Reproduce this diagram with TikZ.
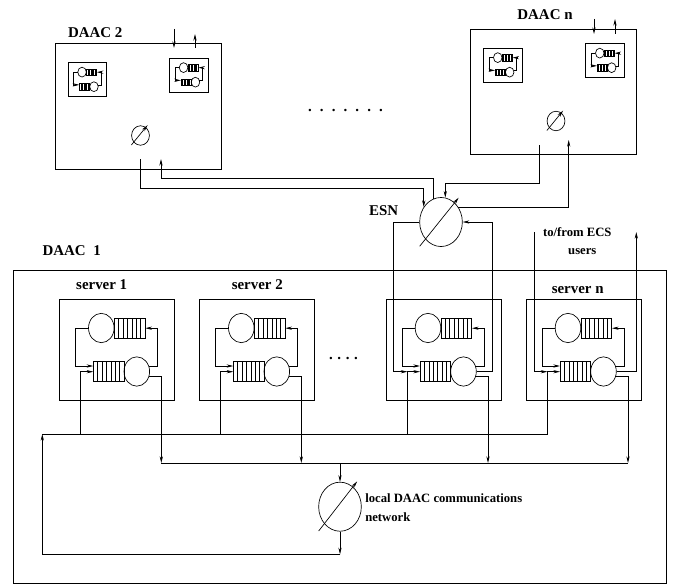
\documentclass[tikz,border=0pt]{standalone}
\usepackage{fontspec}
\setmainfont{Liberation Serif}
\usepackage{tikz}
\usetikzlibrary{arrows.meta, shapes.geometric}
\tikzset{
  site/.style={draw, rectangle, inner sep=0pt, line width=0.5pt},
  srvbox/.style={site, minimum width=86.25pt, minimum height=76pt},
  srvcirc/.style={draw, ellipse, inner sep=0pt, line width=0.5pt,
    minimum width=19.2pt, minimum height=22pt},
  srvq/.style={site, minimum width=23pt, minimum height=14.7pt,
    path picture={
      \foreach \i in {1,...,6}
        \draw[line width=0.4pt] ([xshift=\i*3.286pt]path picture bounding box.south west)
          -- ([xshift=\i*3.286pt]path picture bounding box.north west);
    }
  },
  lanbig/.style={draw, ellipse, inner sep=0pt, line width=0.5pt,
    minimum width=32pt, minimum height=36.8pt},
  lansmall/.style={draw, ellipse, inner sep=0pt, line width=0.5pt,
    minimum width=13.4pt, minimum height=14.6pt},
  link/.style={line width=0.5pt},
  flow/.style={-{Stealth[length=5pt,width=2.4pt]}, line width=0.5pt},
  lblbig/.style={font=\fontsize{11.2}{13}\selectfont\bfseries, inner sep=0pt},
  lblsmall/.style={font=\fontsize{9.5}{11}\selectfont\bfseries, inner sep=0pt}
}
% one server: two queues and two stations in a loop
\newcommand{\serverloop}[3]{
  \begin{scope}[shift={#2}, scale=#3, transform shape]
    \node[srvbox]  (#1)   at (57.5,50.7) {};
    \node[srvcirc] (#1ct) at (42,28.7) {};
    \node[srvq]    (#1qt) at (70.3,28.9) {};
    \node[srvq]    (#1qb) at (49.4,72.2) {};
    \node[srvcirc] (#1cb) at (77.5,72.2) {};
    \coordinate (#1ia) at (34,66.7);
    \coordinate (#1ib) at (34,72.4);
    \coordinate (#1j)  at (21.4,72.4);
    \coordinate (#1oa) at (89.3,66.7);
    \coordinate (#1ob) at (89.5,76.7);
    \coordinate (#1d)  at (102,76.7);
    \draw[flow] (#1ct.west) -- ++(-12.6,0) |- (#1ia);
    \draw[flow] (#1oa) -- ++(8.7,0) |- (#1qt.east);
  \end{scope}
}

\begin{document}
\begin{tikzpicture}[x=0.75pt, y=-0.75pt]
  \useasboundingbox (0,0) rectangle (677,585);

  % remote sites
  \node[site, minimum width=124.5pt, minimum height=94.5pt] (daacb) at (138,106) {};
  \node[site, minimum width=124pt, minimum height=94.1pt] (daacn) at (553.3,91.7) {};
  \node[lblbig] (daacblbl) at (95.3,33) {DAAC 2};
  \node[lblbig] (daacnlbl) at (545,15) {DAAC n};
  \serverloop{rba}{(68,62.5)}{0.335}
  \serverloop{rbb}{(169.5,58)}{0.335}
  \serverloop{rna}{(483.7,48)}{0.335}
  \serverloop{rnb}{(585.7,43.5)}{0.335}
  \node[lansmall] (lanb) at (140.5,135.5) {};
  \node[lansmall] (lann) at (556,121) {};
  \draw[flow] ([shift={(-2.6,2.4)}]lanb.south west) -- ([shift={(0.5,-3.2)}]lanb.north east);
  \draw[flow] ([shift={(-2.6,2.4)}]lann.south west) -- ([shift={(0.5,-3.2)}]lann.north east);
  \node[anchor=base, lblbig] (dotsa) at (345.5,111) {.\hspace{6.1pt}.\hspace{6.1pt}.\hspace{6.1pt}.\hspace{6.1pt}.\hspace{6.1pt}.\hspace{6.1pt}.};

  % users of the remote sites
  \coordinate (ubin)  at (174,29);   \coordinate (ubint)  at (174,48);
  \coordinate (ubout) at (195,48);   \coordinate (uboutt) at (195,34);
  \coordinate (unin)  at (594,19);   \coordinate (unint)  at (594,34);
  \coordinate (unout) at (615,34);   \coordinate (unoutt) at (615,19);
  \draw[flow] (ubin)--(ubint); \draw[flow] (ubout)--(uboutt);
  \draw[flow] (unin)--(unint); \draw[flow] (unout)--(unoutt);

  % ESN
  \node[lanbig] (esn) at (441,222) {};
  \draw[flow] ([shift={(-6,6.7)}]esn.south west) -- ([shift={(2.3,-6.7)}]esn.north east);
  \node[lblbig] (esnlbl) at (383.7,211) {ESN};
  \coordinate (bout) at (140,159);
  \coordinate (bin)  at (161,159);
  \coordinate (nout) at (539.3,145);
  \coordinate (nin)  at (568.7,140);
  \draw[flow] (bout) -- ++(0,29) -| (esn.139);
  \draw[flow] (esn.109) -- ++(0,-20.7) -| (bin);
  \draw[flow] (nout) -- ++(0,38.5) -| (esn.80);
  \draw[flow] (esn.40) -| (nin);

  % local site
  \node[site, minimum width=490pt, minimum height=234.5pt] (daaca) at (339.7,426.6) {};
  \node[lblbig] (daacalbl) at (71.7,250.7) {DAAC\hspace{3pt} 1};
  \foreach \nm/\xx in {srva/59.3, srvb/199.3, srvc/386, srvn/526}
    \serverloop{\nm}{(\xx,299.3)}{1};
  \node[lblbig] (srvalbl) at (101.7,285) {server 1};
  \node[lblbig] (srvblbl) at (257.3,285) {server 2};
  \node[lblbig] (srvnlbl) at (577.7,290) {server n};
  \node[anchor=base, lblbig] (dotsb) at (343.5,359) {.\hspace{3.4pt}.\hspace{3.4pt}.\hspace{3.4pt}.};
  \node[lblsmall] (ecslbla) at (577.3,232.5) {to/from ECS};
  \node[lblsmall] (ecslblb) at (582.3,252) {users};

  % buses
  \coordinate (busup)  at (42.3,434);
  \coordinate (busupe) at (547.6,434);
  \coordinate (busdn)  at (161.3,463);
  \coordinate (busdne) at (628,463);
  \draw[link] (busup) -- (busupe);
  \draw[link] (busdn) -- (busdne);
  \foreach \nm in {srva, srvb, srvc, srvn} {
    \draw[flow] (\nm j |- busup) |- (\nm ib);
    \draw[flow] (\nm ob) -| (\nm d |- busdn);
  }

  % links to the outside
  \draw[flow] (esn.west) -- ++(-25.7,0) |- (srvcj);
  \draw[flow] (srvccb.east) -- ++(16,0) |- (esn.east);
  \coordinate (ecsin)  at (534.3,232);
  \coordinate (ecsout) at (636.3,232);
  \draw[flow] (ecsin) |- (srvnj);
  \draw[flow] (srvncb.east) -| (ecsout);

  % local network
  \node[lanbig] (lan) at (340,506.7) {};
  \draw[flow] ([shift={(-6,6.7)}]lan.south west) -- ([shift={(1.8,-7.7)}]lan.north east);
  \node[lblsmall, anchor=west] (lanlbla) at (365,497.7) {local DAAC communications};
  \node[lblsmall, anchor=west] (lanlblb) at (365,516.7) {network};
  \coordinate (lanin)  at (340,463);
  \coordinate (lanout) at (340,554.3);
  \draw[flow] (lanin) -- (lan.north);
  \draw[flow] (lan.south) -- (lanout);
  \draw[flow] (lanout) -| (busup);
\end{tikzpicture}
\end{document}
